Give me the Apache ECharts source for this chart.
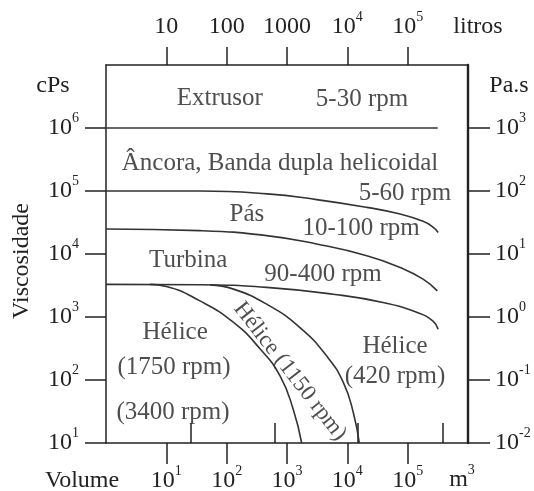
<!doctype html>
<html>
<head>
<meta charset="utf-8">
<style>html,body{margin:0;padding:0;background:#fff}#main{width:534px;height:491px}</style>
</head>
<body>
<div id="main"></div>
<script src="https://cdn.jsdelivr.net/npm/echarts@6/dist/echarts.min.js"></script>
<script>
// tick positions (real values) and their labels
var volTicks = [10, 100, 1000, 1e4, 1e5];
var litrosLabels = ['10', '100', '1000', '10^4', '10^5'];
var m3Labels = ['10^1', '10^2', '10^3', '10^4', '10^5'];
var innerTicks = [25, 630, 15000, 385000];
var viscTicks = [10, 100, 1000, 1e4, 1e5, 1e6];
var cpsLabels = ['10^1', '10^2', '10^3', '10^4', '10^5', '10^6'];
var pasLabels = ['10^-2', '10^-1', '10^0', '10^1', '10^2', '10^3'];

// boundary curves [volume, viscosity cPs]
var extrusorLine = [[1, 1e6], [3.15e5, 1e6]];
var ancoraLine = [[1, 1e5], [36, 1e5], [470, 9.0e4], [3100, 7.3e4], [21000, 5.5e4], [75000, 4.3e4], [180000, 3.3e4], [260000, 2.7e4], [320000, 2.2e4]];
var pasLine = [[1, 2.5e4], [36, 2.35e4], [460, 1.96e4], [3100, 1.44e4], [21000, 9400], [75000, 6100], [180000, 4000], [310000, 2600]];
var turbinaLine = [[1, 3300], [36, 3250], [460, 2950], [5800, 2300], [39000, 1700], [143000, 1180], [260000, 870], [320000, 640]];
var helice1750Line = [[5.4, 3290], [10, 3060], [36, 1800], [130, 820], [360, 310], [770, 115], [1270, 34], [1750, 10]];
var helice1150Line = [[53, 3240], [130, 2770], [460, 1600], [1640, 680], [4550, 240], [8600, 91], [12600, 30], [15800, 10]];

// region notes [text, volume, viscosity, rotation]
var notes = [
    ['Extrusor', 77, 2.9e6, 0],
    ['5-30 rpm', 17500, 2.8e6, 0],
    ['Âncora, Banda dupla helicoidal', 766, 2.7e5, 0],
    ['5-60 rpm', 90000, 9.0e4, 0],
    ['Pás', 217, 4.3e4, 0],
    ['10-100 rpm', 16900, 2.5e4, 0],
    ['Turbina', 23, 8000, 0],
    ['90-400 rpm', 3950, 4700, 0],
    ['Hélice', 14, 560, 0],
    ['(1750 rpm)', 13.4, 160, 0],
    ['(3400 rpm)', 12.9, 31, 0],
    ['Hélice (1150 rpm)', 1120, 137, -52],
    ['Hélice', 61700, 335, 0],
    ['(420 rpm)', 61700, 112, 0]
];

var font = "'Liberation Serif', 'Times New Roman', serif";
var ink = '#222';
var rich = {
    b: { fontSize: 24, lineHeight: 34, fontFamily: font, color: ink },
    s: { fontSize: 14, lineHeight: 14, verticalAlign: 'top', fontFamily: font, color: ink }
};

function lg(v) { return Math.log10(v); }
function sup(t) {
    var p = t.split('^');
    return '{b|' + p[0] + '}' + (p.length > 1 ? '{s|' + p[1] + '}' : '');
}
function pts(arr) { return arr.map(function (p) { return [lg(p[0]), lg(p[1])]; }); }
function labeler(ticks, labels) {
    return function (v) {
        for (var i = 0; i < ticks.length; i++) {
            if (Math.abs(lg(ticks[i]) - v) < 1e-6) return sup(labels[i]);
        }
        return '';
    };
}

function axis(pos, min, max, ticks, labels, tickLen, margin, lineWidth) {
    return {
        type: 'value', position: pos, min: min, max: max,
        axisLine: { show: true, onZero: false, lineStyle: { color: ink, width: lineWidth || 1.5 } },
        axisTick: { show: true, length: tickLen, customValues: ticks.map(lg), lineStyle: { color: ink, width: 1.5 } },
        axisLabel: { customValues: ticks.map(lg), formatter: labeler(ticks, labels), margin: margin, rich: rich },
        splitLine: { show: false }
    };
}

var chart = echarts.init(document.getElementById('main'));

function line(data) {
    return {
        type: 'line', data: pts(data), showSymbol: false, smooth: 0.5,
        lineStyle: { color: '#333', width: 1.6 }, silent: true, animation: false
    };
}

var graphicText = function (text, x, y, extra) {
    var el = {
        type: 'text', x: x, y: y,
        style: { text: text, fill: ink, font: '24px ' + font, align: 'center', verticalAlign: 'middle', rich: rich }
    };
    if (extra) Object.assign(el, extra);
    return el;
};

chart.setOption({
    animation: false,
    grid: { left: 106, right: 66, top: 65, bottom: 48, outerBoundsMode: 'none', containLabel: false },
    xAxis: [
        axis('bottom', 0, 6, volTicks, m3Labels, 21, 21),
        axis('top', 0, 6, volTicks, litrosLabels, 18, 21),
        {
            type: 'value', position: 'bottom', min: 0, max: 6,
            axisLine: { show: false, onZero: false },
            axisTick: { show: true, inside: true, length: 20, customValues: innerTicks.map(lg), lineStyle: { color: ink, width: 1.5 } },
            axisLabel: { show: false },
            splitLine: { show: false }
        }
    ],
    yAxis: [
        axis('left', 1, 7, viscTicks, cpsLabels, 21, 27),
        axis('right', 1, 7, viscTicks, pasLabels, 22, 27, 2.4)
    ],
    series: [
        line(extrusorLine),
        line(ancoraLine),
        line(pasLine),
        line(turbinaLine),
        line(helice1750Line),
        line(helice1150Line),
        {
            type: 'scatter', symbolSize: 1, itemStyle: { color: 'rgba(0,0,0,0)' }, silent: true,
            data: notes.map(function (n) {
                return {
                    value: [lg(n[1]), lg(n[2])],
                    label: { show: true, position: 'inside', formatter: n[0], rotate: n[3],
                        fontSize: n[3] ? 23 : 25, fontFamily: font, color: ink }
                };
            })
        }
    ],
    graphic: [
        graphicText('cPs', 53, 86),
        graphicText('Pa.s', 509, 86),
        graphicText('litros', 478, 27),
        graphicText('Volume', 82, 481),
        graphicText('{b|m}{s|3}', 462, 480),
        graphicText('Viscosidade', 22, 261, { rotation: Math.PI / 2 })
    ]
});

window.onresize = chart.resize;
</script>
</body>
</html>
